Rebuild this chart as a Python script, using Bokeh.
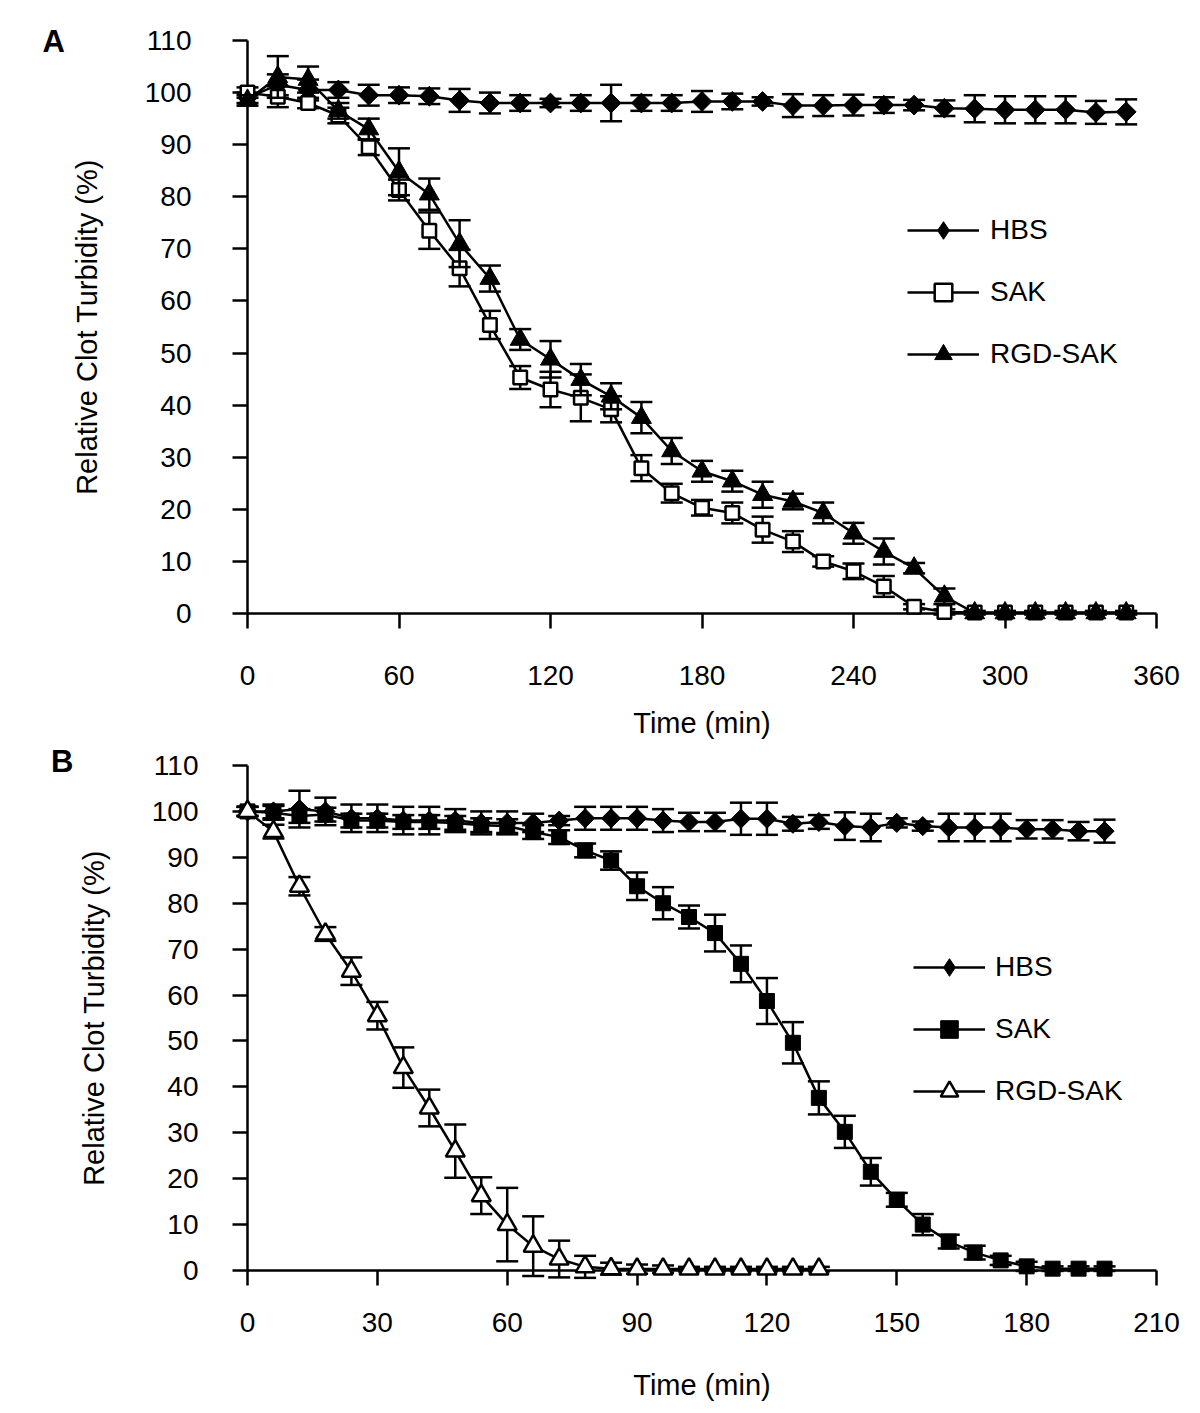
import numpy as np
from bokeh.plotting import figure
from bokeh.models import Range1d, FixedTicker, Legend, LegendItem
from bokeh.core.properties import value
from bokeh.layouts import column
from bokeh.embed import file_html
from bokeh.resources import INLINE

# ---------------- data: panel A ----------------
time_a = list(range(0, 349, 12))
hbs_a = [99, 101.5, 100.5, 100.5, 99.5, 99.5, 99.3, 98.5, 98, 98, 98, 98, 98, 98, 98,
         98.3, 98.3, 98.3, 97.5, 97.5, 97.6, 97.6, 97.6, 97, 96.9, 96.7, 96.7, 96.7, 96.2, 96.3]
hbs_a_err = [1, 2, 2, 1.5, 2, 1.5, 1.5, 2.2, 2, 1.5, 0.8, 1.5, 3.5, 1.5, 1.5,
             2, 1.5, 0.8, 2.2, 2, 2, 1.5, 1, 1.5, 2.6, 2.6, 2.6, 2.6, 2.2, 2.4]
sak_a = [100, 99.2, 98, 95.6, 89.5, 81.3, 73.5, 66.3, 55.4, 45.3, 43, 41.4, 39.2, 27.9, 23.1,
         20.3, 19.3, 16.1, 13.8, 10, 8.1, 5.2, 1.3, 0.3, 0.2, 0.2, 0.2, 0.2, 0.2, 0.2]
sak_a_err = [1, 2, 1, 1.5, 1.5, 2, 3.5, 3.5, 2.7, 2.2, 3.4, 4.5, 2.5, 2.5, 1.8,
             1.5, 2, 2.5, 2, 1, 1.5, 2, 0.5, 0.5, 0.3, 0.3, 0.3, 0.3, 0.3, 0.3]
rgd_a = [98.5, 103, 102.5, 96.5, 93, 84.8, 80.5, 71, 64.3, 52.6, 48.8, 44.9, 41.7, 37.6, 31.2,
         27.3, 25.4, 22.8, 21.5, 19.3, 15.4, 11.9, 8.7, 3.3, 0.1, 0.1, 0.1, 0.1, 0.1, 0.1]
rgd_a_err = [1, 4, 2.5, 1.5, 2, 4.5, 3, 4.5, 2.5, 2, 3.5, 3, 2.5, 3, 2.5,
             2, 2, 2.5, 1.5, 2, 2, 2.5, 1, 1.5, 0.3, 0.3, 0.3, 0.3, 0.3, 0.3]

# ---------------- data: panel B ----------------
time_b = list(range(0, 199, 6))
hbs_b = [100, 100, 100.5, 100, 98.5, 98.5, 98, 98, 98, 97.5, 97.5, 97.5, 98, 98.5, 98.5, 98.5, 98,
         97.7, 97.7, 98.4, 98.4, 97.3, 97.7, 96.8, 96.5, 97.5, 96.8, 96.5, 96.5, 96.5, 96.1, 96.1,
         95.7, 95.7]
hbs_b_err = [1, 1.5, 4, 3, 3, 3, 3, 3, 2.5, 2.5, 2.5, 2, 1, 2.5, 2.5, 2.5, 2.5,
             2, 2, 3.5, 3.5, 1.5, 1.5, 3, 3, 1, 1, 3, 3, 3, 2, 2, 2, 2.5]
sak_b = [100, 99.7, 99, 99.3, 98, 98, 97.7, 97.7, 97.5, 97, 96.8, 95.5, 94.4, 91.5, 89.3, 83.7, 80,
         77, 73.5, 66.8, 58.7, 49.6, 37.6, 30.2, 21.5, 15.4, 10, 6.3, 3.9, 2.2, 0.9, 0.4, 0.4, 0.4]
sak_b_err = [1, 1.5, 1.5, 1.5, 1.5, 1.5, 1.5, 1.5, 1.5, 1.5, 1.5, 1.5, 1.5, 1.5, 2, 3, 3.5,
             2.5, 4, 4, 5, 4.5, 3.6, 3.5, 3, 1.5, 2.3, 1.5, 1.5, 1, 1, 0.5, 0.5, 0.5]
time_b_rgd = list(range(0, 133, 6))
rgd_b = [100, 95.6, 83.7, 73.3, 65.2, 55.5, 44.2, 35.4, 26, 16.3, 10, 5.3, 2.5, 0.8, 0.4, 0.3,
         0.3, 0.3, 0.3, 0.3, 0.3, 0.3, 0.3]
rgd_b_err = [1, 1.5, 2, 1.5, 3, 3, 4.4, 4, 5.8, 4, 8, 6.5, 4, 2.4, 1.3, 1, 0.8, 0.5, 0.5, 0.5,
             0.5, 0.5, 0.5]

ticks_y = list(range(0, 111, 10))
ticks_x_a = list(range(0, 361, 60))
ticks_x_b = list(range(0, 211, 30))

FONT = "Liberation Sans"
LW = 2.5


def base_fig(height, xr, xt, left, right, top, bottom, xstand, xlabstand, ystand, ylabstand):
    p = figure(width=1200, height=height, x_range=Range1d(*xr), y_range=Range1d(0, 110),
               output_backend="svg", toolbar_location=None,
               min_border_left=left, min_border_right=right,
               min_border_top=top, min_border_bottom=bottom)
    p.outline_line_color = None
    p.grid.visible = False
    p.background_fill_color = "white"
    p.border_fill_color = "white"
    p.xaxis.ticker = FixedTicker(ticks=xt)
    p.yaxis.ticker = FixedTicker(ticks=ticks_y)
    for ax in (p.xaxis[0], p.yaxis[0]):
        ax.axis_line_width = LW
        ax.axis_line_color = "black"
        ax.major_tick_line_width = LW
        ax.major_tick_line_color = "black"
        ax.major_tick_out = 15
        ax.major_tick_in = 0
        ax.minor_tick_line_color = None
        ax.major_label_text_font = FONT
        ax.major_label_text_font_size = "28px"
        ax.major_label_text_color = "black"
        ax.axis_label_text_font = FONT
        ax.axis_label_text_font_size = "29px"
        ax.axis_label_text_font_style = "normal"
        ax.axis_label_text_color = "black"
    p.xaxis.axis_label = "Time (min)"
    p.yaxis.axis_label = "Relative Clot Turbidity (%)"
    p.xaxis.major_label_standoff = xstand
    p.xaxis.axis_label_standoff = xlabstand
    p.yaxis.major_label_standoff = ystand
    p.yaxis.axis_label_standoff = ylabstand
    return p


def series(p, t, v, e, marker, size, fill, angle=0.0, lw_marker=LW):
    t = np.asarray(t, float)
    v = np.asarray(v, float)
    e = np.asarray(e, float)
    lo, hi = v - e, v + e
    p.segment(t, lo, t, hi, line_color="black", line_width=LW, level="overlay")
    p.scatter(t, hi, marker="dash", size=22, line_color="black", line_width=LW, level="overlay")
    p.scatter(t, lo, marker="dash", size=22, line_color="black", line_width=LW, level="overlay")
    p.line(t, v, line_color="black", line_width=LW, level="overlay")
    p.scatter(t, v, marker=marker, size=size, angle=angle, fill_color=fill,
              line_color="black", line_width=lw_marker, level="overlay")


def legend_for(p, entries, vx, vy, standoff):
    items = []
    for name, marker, fill, mlw in entries:
        lr = p.line([np.nan, np.nan], [np.nan, np.nan], line_color="black", line_width=LW)
        sr = p.scatter([np.nan], [np.nan], marker=marker, fill_color=fill,
                       line_color="black", line_width=mlw)
        items.append(LegendItem(label=name, renderers=[lr, sr]))
    lg = Legend(items=items, location=(vx, vy), orientation="vertical",
                glyph_width=72, glyph_height=44, label_height=44, spacing=18,
                label_standoff=standoff, padding=0, margin=0,
                border_line_color=None, background_fill_alpha=0,
                label_text_font=FONT, label_text_font_size="28px",
                label_text_color="black")
    p.add_layout(lg)


def panel_letter(p, x, y, text):
    p.text(x=[x], y=[y], text=[text], text_font=value(FONT), text_font_size="31px",
           text_font_style="bold", text_align="center", text_baseline="middle",
           text_color="black", level="overlay")


# ---------------- panel A ----------------
pA = base_fig(741, (0, 360), ticks_x_a, 247, 44, 40, 128, 37, 19, 41, 39)
series(pA, time_a, hbs_a, hbs_a_err, "square", 14, "black", angle=np.pi / 4, lw_marker=1)
series(pA, time_a, sak_a, sak_a_err, "square", 13.5, "white")
series(pA, time_a, rgd_a, rgd_a_err, "triangle", 20, "black", lw_marker=1)
legend_for(pA, [("HBS", "diamond", "black", 1), ("SAK", "square", "white", LW),
                ("RGD-SAK", "triangle", "black", 1)], 660, 237, 11)
panel_letter(pA, -76.8, 109.8, "A")

# ---------------- panel B ----------------
pB = base_fig(672, (0, 210), ticks_x_b, 244, 32, 24, 143, 27, 34, 34, 39)
series(pB, time_b, hbs_b, hbs_b_err, "square", 13.5, "black", angle=np.pi / 4, lw_marker=1)
series(pB, time_b, sak_b, sak_b_err, "square", 15, "black", lw_marker=1)
series(pB, time_b_rgd, rgd_b, rgd_b_err, "triangle", 19, "white")
legend_for(pB, [("HBS", "diamond", "black", 1), ("SAK", "square", "black", 1),
                ("RGD-SAK", "triangle", "white", LW)], 666, 157, 10)
panel_letter(pB, -42.8, 110.9, "B")

layout = column(pA, pB)
open("out.html", "w").write(file_html(layout, INLINE))
